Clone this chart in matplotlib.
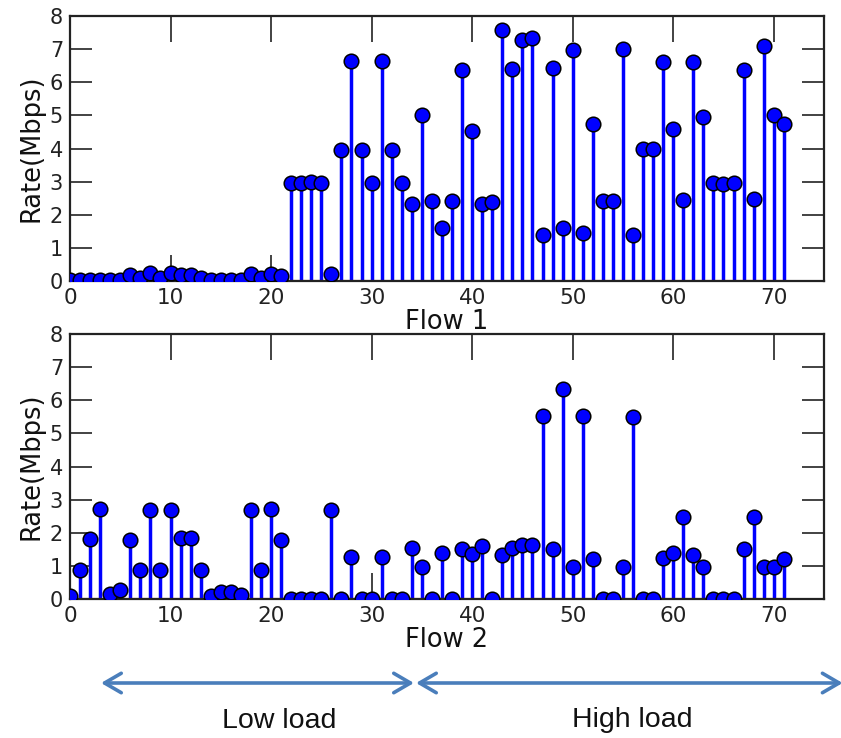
import matplotlib
matplotlib.use("Agg")
import matplotlib.pyplot as plt
from matplotlib.patches import FancyArrowPatch

# Flow index on the x axis
flow_index = list(range(72))

# Measured rate (Mbps) for each flow in the first experiment
flow1_rate = [
    0.04, 0.03, 0.03, 0.03, 0.03, 0.04, 0.17, 0.10, 0.25, 0.10,
    0.25, 0.17, 0.17, 0.10, 0.03, 0.02, 0.02, 0.02, 0.22, 0.10,
    0.22, 0.15, 2.95, 2.95, 3.00, 2.95, 0.22, 3.95, 6.63, 3.95,
    2.96, 6.63, 3.95, 2.95, 2.34, 5.02, 2.42, 1.59, 2.41, 6.38,
    4.54, 2.34, 2.38, 7.58, 6.40, 7.29, 7.33, 1.39, 6.44, 1.61,
    6.96, 1.44, 4.75, 2.41, 2.41, 6.99, 1.39, 3.99, 3.99, 6.62,
    4.58, 2.44, 6.62, 4.95, 2.96, 2.92, 2.97, 6.37, 2.49, 7.08,
    5.02, 4.73,
]

# Measured rate (Mbps) for each flow in the second experiment
flow2_rate = [
    0.09, 0.89, 1.80, 2.73, 0.14, 0.26, 1.78, 0.87, 2.70, 0.87,
    2.70, 1.83, 1.83, 0.87, 0.09, 0.21, 0.21, 0.13, 2.70, 0.87,
    2.73, 1.78, 0.00, 0.00, 0.00, 0.00, 2.70, 0.00, 1.27, 0.00,
    0.00, 1.27, 0.00, 0.00, 1.55, 0.97, 0.00, 1.38, 0.00, 1.52,
    1.37, 1.59, 0.00, 1.32, 1.54, 1.62, 1.62, 5.53, 1.52, 6.35,
    0.97, 5.53, 1.20, 0.00, 0.00, 0.97, 5.50, 0.00, 0.00, 1.25,
    1.39, 2.48, 1.32, 0.97, 0.00, 0.00, 0.00, 1.52, 2.48, 0.97,
    0.97, 1.20,
]

x_ticks = [0, 10, 20, 30, 40, 50, 60, 70]
y_ticks = [0, 1, 2, 3, 4, 5, 6, 7, 8]
x_titles = ["Flow 1", "Flow 2"]
y_title = "Rate(Mbps)"
load_labels = ["Low load", "High load"]

plt.rcParams["font.family"] = ["DejaVu Sans"]

fig = plt.figure(figsize=(8.41, 7.38), dpi=100)
ax_top = fig.add_axes([0.0832, 0.6192, 0.8966, 0.3591])
ax_bot = fig.add_axes([0.0832, 0.1883, 0.8966, 0.3591])


def draw_stems(ax, values, title):
    markerline, stemlines, baseline = ax.stem(flow_index, values)
    stemlines.set_color("#0000ff")
    stemlines.set_linewidth(2.5)
    markerline.set_marker("o")
    markerline.set_markersize(10.5)
    markerline.set_markerfacecolor("#0000ff")
    markerline.set_markeredgecolor("black")
    markerline.set_markeredgewidth(1.1)
    markerline.set_zorder(3)
    baseline.set_color("#a00000")
    baseline.set_linewidth(1.5)

    ax.set_xlim(0, 75)
    ax.set_ylim(0, 8)
    ax.set_xticks(x_ticks)
    ax.set_yticks(y_ticks)
    ax.tick_params(axis="x", direction="in", length=19, width=1.2,
                   top=True, bottom=True, labelsize=15.5, pad=5,
                   colors="#222222")
    ax.tick_params(axis="y", direction="in", length=16, width=1.2,
                   left=True, right=True, labelsize=15, pad=5,
                   colors="#222222")
    for spine in ax.spines.values():
        spine.set_linewidth(1.6)
        spine.set_color("#222222")
    ax.set_xlabel(title, fontsize=18.5, labelpad=1, color="#111111")
    ax.set_ylabel(y_title, fontsize=18.5, labelpad=4, color="#111111")


draw_stems(ax_top, flow1_rate, x_titles[0])
draw_stems(ax_bot, flow2_rate, x_titles[1])

# Load-region arrows drawn in figure coordinates
arrow_color = "#4a7ebb"
arrow_y = 1 - 683 / 738
split_x = 414 / 841
arrow_kw = dict(arrowstyle="<->,head_length=0.6,head_width=0.35",
                color=arrow_color, lw=2.6, shrinkA=0, shrinkB=0,
                mutation_scale=20, transform=fig.transFigure)
fig.add_artist(FancyArrowPatch((101 / 841, arrow_y), (split_x, arrow_y),
                               **arrow_kw))
fig.add_artist(FancyArrowPatch((split_x + 2 / 841, arrow_y),
                               (1.002, arrow_y), **arrow_kw))

fig.text(279 / 841, 1 - 721 / 738, load_labels[0], ha="center", va="center",
         fontsize=20.5, family=["Liberation Sans"], color="#111111")
fig.text(632 / 841, 1 - 720 / 738, load_labels[1], ha="center", va="center",
         fontsize=20.5, family=["Liberation Sans"], color="#111111")

fig.savefig("out.png", dpi=100)
